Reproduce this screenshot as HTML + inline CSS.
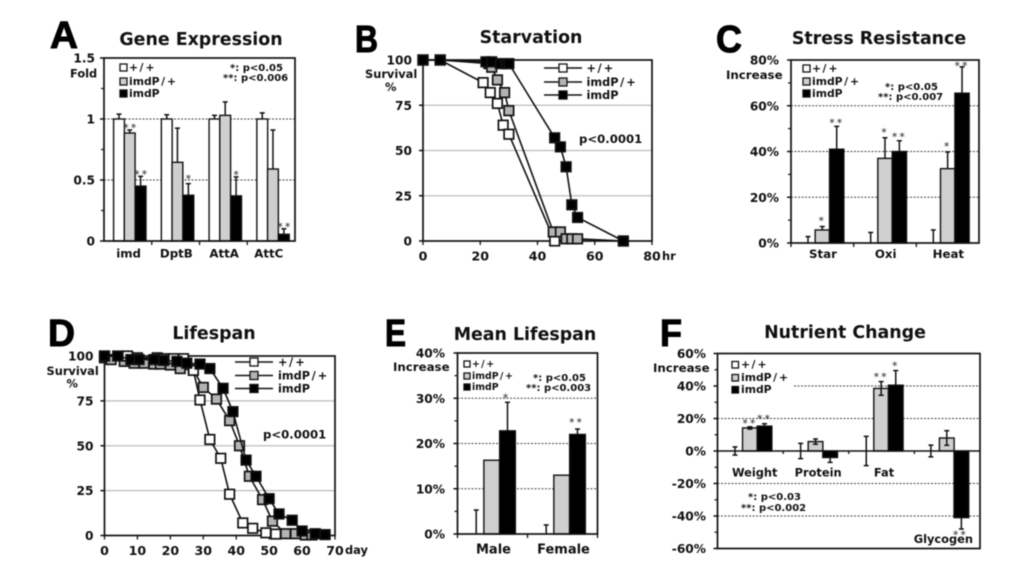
<!DOCTYPE html>
<html lang="en">
<head>
<meta charset="utf-8">
<title>Gene expression and survival panels</title>
<style>
html,body{margin:0;padding:0;background:#fff;}
#figure{display:block;width:1020px;height:573px;filter:blur(0.4px);}
text{font-family:"DejaVu Sans","Liberation Sans",sans-serif;font-weight:bold;fill:#111;}
.letter{font-family:"Liberation Sans",sans-serif;font-size:38px;fill:#000;stroke:#000;stroke-width:1px;}
.title{font-size:17.4px;text-anchor:middle;}
.tick{font-size:12.2px;text-anchor:end;}
.tickx{font-size:11.8px;text-anchor:middle;}
.ticknum{font-size:12.6px;text-anchor:middle;}
.tickf{font-size:11.4px;text-anchor:middle;}
.note{font-size:10px;}
.unit{font-size:11.4px;}
.pval{font-size:11.7px;}
.leg{font-size:10.8px;}
.star{font-size:11px;text-anchor:middle;font-weight:normal;fill:#222;letter-spacing:2px;}
</style>
</head>
<body>
<svg id="figure" xmlns="http://www.w3.org/2000/svg" width="1020" height="573" viewBox="0 0 1020 573">
  <rect width="1020" height="573" fill="#fff"/>
  <text class="letter" x="50" y="48" textLength="28" lengthAdjust="spacingAndGlyphs">A</text>
  <text class="letter" x="355" y="52" textLength="23" lengthAdjust="spacingAndGlyphs">B</text>
  <text class="letter" x="716" y="52" textLength="26" lengthAdjust="spacingAndGlyphs">C</text>
  <text class="letter" x="48" y="346" textLength="27" lengthAdjust="spacingAndGlyphs">D</text>
  <text class="letter" x="385" y="346" textLength="21" lengthAdjust="spacingAndGlyphs">E</text>
  <text class="letter" x="660" y="346" textLength="22" lengthAdjust="spacingAndGlyphs">F</text>
  <text class="title" x="201" y="45">Gene Expression</text>
  <text class="title" x="531" y="43">Starvation</text>
  <text class="title" x="879" y="44">Stress Resistance</text>
  <text class="title" x="214" y="339">Lifespan</text>
  <text class="title" x="525" y="340">Mean Lifespan</text>
  <text class="title" x="845" y="338">Nutrient Change</text>
  <g id="chart-layer"></g>
  <g id="label-layer">
    <text class="unit" x="70" y="77.5">Fold</text>
    <text class="note" x="230" y="71">*: p&lt;0.05</text>
    <text class="note" x="223" y="81">**: p&lt;0.006</text>
    <text class="unit" x="365" y="78">Survival</text>
    <text class="unit" x="385" y="91">%</text>
    <text class="unit" x="662" y="260">hr</text>
    <text class="pval" x="579" y="143">p&lt;0.0001</text>
    <text class="unit" style="font-size:11.8px" x="726" y="79">Increase</text>
    <text class="note" x="885" y="90">*: p&lt;0.05</text>
    <text class="note" x="878" y="100">**: p&lt;0.007</text>
    <text class="unit" x="46.5" y="375">Survival</text>
    <text class="unit" x="66.5" y="387.5">%</text>
    <text class="unit" x="345" y="554">day</text>
    <text class="pval" x="263" y="438.5">p&lt;0.0001</text>
    <text class="unit" style="font-size:11.8px" x="393" y="371">Increase</text>
    <text class="note" x="533" y="381">*: p&lt;0.05</text>
    <text class="note" x="526" y="391">**: p&lt;0.003</text>
    <text class="unit" style="font-size:11.8px" x="653" y="372">Increase</text>
    <text class="note" x="748" y="500">*: p&lt;0.03</text>
    <text class="note" x="741" y="511">**: p&lt;0.002</text>
  </g>
</svg>
<script>
/* ---------- Panel A: gene expression ---------- */
const aCategories = ['imd', 'DptB', 'AttA', 'AttC'];
const aControl = [1, 1, 1, 1];
const aHet = [0.885, 0.645, 1.03, 0.59];
const aHom = [0.45, 0.375, 0.37, 0.055];
const aControlErr = [0.04, 0.035, 0.03, 0.05];
const aHetErr = [0.025, 0.28, 0.11, 0.32];
const aHomErr = [0.08, 0.095, 0.155, 0.045];
const aHetStars = ['**', '', '', ''];
const aHomStars = ['**', '*', '*', '**'];
const aTicks = [0, 0.5, 1, 1.5];
const aTickLabels = ['0', '0.5', '1', '1.5'];

/* ---------- Panel B: starvation ---------- */
const bControlHours = [0, 6, 21, 23.5, 26, 28, 30, 46];
const bControlSurvival = [100, 100, 87.5, 82, 76, 64, 59, 0];
const bHetHours = [0, 6, 23, 24, 26, 28.5, 30, 45.5, 48, 50, 52, 54, 70];
const bHetSurvival = [100, 100, 98, 96, 89, 82, 72, 5, 5, 1.2, 1.2, 1.2, 0];
const bHomHours = [0, 6, 22, 24, 27, 29, 30, 46, 48, 50, 52, 54, 70];
const bHomSurvival = [100, 100, 99, 99, 98, 98, 98, 57, 52, 41, 20, 13, 0];
const bXTicks = [0, 20, 40, 60, 80];
const bYTicks = [0, 25, 50, 75, 100];

/* ---------- Panel C: stress resistance ---------- */
const cCategories = ['Star', 'Oxi', 'Heat'];
const cControl = [0, 0, 0];
const cHet = [5.7, 37, 32.5];
const cHom = [41, 40, 65.5];
const cControlErr = [2.8, 4.6, 5.7];
const cHetErr = [1.5, 9, 7.3];
const cHomErr = [10, 4.7, 11.5];
const cHetStars = ['*', '*', '*'];
const cHomStars = ['**', '**', '**'];
const cTicks = [0, 20, 40, 60, 80];

/* ---------- Panel D: lifespan ---------- */
const dControlDays = [0, 7, 10, 16, 18, 21, 24, 27, 29, 32, 35.3, 38, 42, 45, 49, 52];
const dControlSurvival = [100, 100, 99, 99, 98.5, 98.5, 98.5, 92, 75.5, 53.5, 43, 23, 7, 4, 1.5, 0.8];
const dHetDays = [0, 2, 6, 9, 12, 15, 17, 20, 23, 27, 30, 34, 38, 41, 44, 48, 51, 55, 58, 61, 63];
const dHetSurvival = [99, 98, 97, 96, 96, 95.5, 95.5, 95, 93, 92, 82.5, 76, 64, 50, 33, 20, 8, 1, 1, 0.3, 0.3];
const dHomDays = [0, 4, 8, 10.5, 15, 18, 22, 25, 29, 32, 36, 39, 43, 46, 50, 53, 57, 60, 64, 67];
const dHomSurvival = [100, 100, 98, 98, 98, 97.5, 97, 96, 95.5, 93, 82, 69, 42, 33, 20.5, 12, 8.5, 2.5, 1, 0.5];
const dXTicks = [0, 10, 20, 30, 40, 50, 60, 70];
const dYTicks = [0, 25, 50, 75, 100];

/* ---------- Panel E: mean lifespan ---------- */
const eCategories = ['Male', 'Female'];
const eControl = [0, 0];
const eHet = [16.3, 13];
const eHom = [22.8, 22];
const eControlErr = [5.3, 2];
const eHomErr = [6.3, 1.2];
const eHomStars = ['*', '**'];
const eTicks = [0, 10, 20, 30, 40];

/* ---------- Panel F: nutrient change ---------- */
const fCategories = ['Weight', 'Protein', 'Fat', 'Glycogen'];
const fControl = [0, 0, 0, 0];
const fHet = [14.2, 5.8, 38.5, 8];
const fHom = [15.3, -4, 40.5, -41];
const fControlErr = [2.5, 4.7, 9, 3.6];
const fHetErr = [0.7, 1.6, 4.2, 4.5];
const fHomErr = [1.5, 3, 9, 7];
const fHetStars = ['**', '', '**', ''];
const fHomStars = ['**', '', '*', '**'];
const fTicks = [-60, -40, -20, 0, 20, 40, 60];

/* ---------- Legend ---------- */
const legendLabels = ['+/+', 'imdP/+', 'imdP'];

const SVGNS = 'http://www.w3.org/2000/svg';
const layer = document.getElementById('chart-layer');
const WHITE = '#ffffff', GRAY = '#cfcfcf', LINEGRAY = '#b3b3b3', BLACK = '#000000', INK = '#111111';

function el(tag, attrs, parent) {
  const n = document.createElementNS(SVGNS, tag);
  for (const k in attrs) n.setAttribute(k, attrs[k]);
  (parent || layer).appendChild(n);
  return n;
}
function scale(d0, d1, r0, r1) {
  return v => r0 + (v - d0) / (d1 - d0) * (r1 - r0);
}
function line(x1, y1, x2, y2, stroke, width, dash, name) {
  const n = el('line', {x1, y1, x2, y2, stroke, 'stroke-width': width});
  if (dash) n.setAttribute('stroke-dasharray', dash);
  
  
  return n;
}
function label(str, x, y, cls, name) {
  const t = el('text', {x, y, class: cls});
  t.textContent = str;
  
  
  return t;
}
/* legend text has extra air around the slash */
function legendText(str, x, y, size, name) {
  const t = el('text', {x, y, class: 'leg', style: 'font-size:' + size + 'px'});
  
  
  const slash = str.indexOf('/');
  if (slash < 0) {
    t.textContent = str;
    return t;
  }
  t.appendChild(document.createTextNode(str.slice(0, slash)));
  const a = el('tspan', {dx: (size * 0.14).toFixed(2)}, t);
  a.textContent = '/';
  const b = el('tspan', {dx: (size * 0.18).toFixed(2)}, t);
  b.textContent = str.slice(slash + 1);
  return t;
}
function frame(box, name) {
  const r = el('rect', {x: box.l, y: box.t, width: box.r - box.l, height: box.b - box.t, fill: 'none', stroke: INK, 'stroke-width': 1.7});
  
  
}
function yAxisTicks(ticks, y, box, fmt, panel, minorStep, gap) {
  ticks.forEach((v, i) => {
    line(box.l - 4, y(v), box.l, y(v), INK, 1.5, null, panel + '-y-tick-' + v);
    label(fmt(v, i), box.l - gap, y(v) + 4.5, 'tick', panel + '-y-label-' + v);
    if (minorStep && i < ticks.length - 1) {
      const mid = (v + ticks[i + 1]) / 2;
      line(box.l - 3, y(mid), box.l, y(mid), INK, 1.2, null, panel + '-y-minor-tick-' + mid);
    }
  });
}
function bar(x, w, y0, y1, fill, name) {
  const r = el('rect', {x: x - w / 2, y: Math.min(y0, y1), width: w, height: Math.abs(y1 - y0), fill, stroke: INK, 'stroke-width': 1.4});
  
  
}
function errUp(x, yFrom, yTo, name) {
  line(x, yFrom, x, yTo, INK, 1.5, null, name + '-stem');
  line(x - 2.5, yTo, x + 2.5, yTo, INK, 1.5, null, name + '-cap');
}
function errBoth(x, yA, yB, name) {
  line(x, yA, x, yB, INK, 1.5, null, name + '-stem');
  line(x - 2.5, yA, x + 2.5, yA, INK, 1.5, null, name + '-cap-top');
  line(x - 2.5, yB, x + 2.5, yB, INK, 1.5, null, name + '-cap-bottom');
}
function star(str, x, y, name) {
  if (str) label(str, x, y, 'star', name);
}
function legendBlock(x, ys, size, fontSize, panel, labelGap) {
  const fills = [WHITE, GRAY, BLACK];
  legendLabels.forEach((s, i) => {
    const r = el('rect', {x, y: ys[i] - size, width: size, height: size, fill: fills[i], stroke: INK, 'stroke-width': 1.3});
    
    
    legendText(s, x + size + labelGap, ys[i], fontSize, panel + '-legend-label-' + i);
  });
}
function series(xs, ys, xf, yf, fill, panel, id, size) {
  const pts = xs.map((d, i) => xf(d) + ',' + yf(ys[i])).join(' ');
  const p = el('polyline', {points: pts, fill: 'none', stroke: INK, 'stroke-width': 1.6});
  
  
  xs.forEach((d, i) => {
    const r = el('rect', {x: xf(d) - size / 2, y: yf(ys[i]) - size / 2, width: size, height: size, fill, stroke: INK, 'stroke-width': 1.7});
    
    
  });
}
function lineLegend(x, ys, panel, labelX) {
  const fills = [WHITE, LINEGRAY, BLACK];
  legendLabels.forEach((s, i) => {
    line(x, ys[i], x + 38, ys[i], INK, 1.5, null, panel + '-legend-line-' + i);
    const r = el('rect', {x: x + 15, y: ys[i] - 4, width: 8, height: 8, fill: fills[i], stroke: INK, 'stroke-width': 1.3});
    
    
    legendText(s, labelX, ys[i] + 4, 11.3, panel + '-legend-label-' + i);
  });
}

/* ---------- Draw A ---------- */
(function () {
  const box = {l: 104, r: 295, t: 58, b: 241};
  const y = scale(0, 1.5, box.b, box.t);
  [0.5, 1].forEach(v => line(box.l, y(v), box.r, y(v), '#444', 1, '2 1.5', 'a-gridline-' + v));
  const gw = (box.r - box.l) / 4, w = 10.8;
  aCategories.forEach((c, i) => {
    const g = box.l + gw * i;
    const xs = [g + 15, g + 25.7, g + 36.6];
    errUp(xs[0], y(aControl[i]), y(aControl[i] + aControlErr[i]), 'a-error-control-' + c);
    errUp(xs[1], y(aHet[i]), y(aHet[i] + aHetErr[i]), 'a-error-het-' + c);
    errUp(xs[2], y(aHom[i]), y(aHom[i] + aHomErr[i]), 'a-error-hom-' + c);
    bar(xs[0], w, box.b, y(aControl[i]), WHITE, 'a-bar-control-' + c);
    bar(xs[1], w, box.b, y(aHet[i]), GRAY, 'a-bar-het-' + c);
    bar(xs[2], w, box.b, y(aHom[i]), BLACK, 'a-bar-hom-' + c);
    star(aHetStars[i], xs[1] + 1, y(aHet[i] + aHetErr[i]) + 1.7, 'a-star-het-' + c);
    star(aHomStars[i], xs[2] + 1, y(aHom[i] + aHomErr[i]) + 1.7 - (i === 1 ? 3 : 0), 'a-star-hom-' + c);
    label(c, g + (i === 3 ? 21.5 : 24.6), 257.5, 'tickx', 'a-x-label-' + c);
    if (i > 0) line(g, box.b, g, box.b + 4, INK, 1.3, null, 'a-x-tick-' + i);
  });
  frame(box, 'a-plot-frame');
  yAxisTicks(aTicks, y, box, (v, i) => aTickLabels[i], 'a', true, 9);
  legendBlock(120, [71, 85, 97], 7, 10.8, 'a', 2);
})();

/* ---------- Draw B ---------- */
(function () {
  const box = {l: 423, r: 652, t: 60, b: 241};
  const x = scale(0, 80, box.l, box.r), y = scale(0, 100, box.b, box.t);
  bYTicks.slice(1, 4).forEach(v => line(box.l, y(v), box.r, y(v), '#bbb', 1.2, null, 'b-gridline-' + v));
  frame(box, 'b-plot-frame');
  yAxisTicks(bYTicks, y, box, v => String(v), 'b', false, 11);
  bXTicks.forEach(v => {
    line(x(v), box.b, x(v), box.b + 4, INK, 1.3, null, 'b-x-tick-' + v);
    label(String(v), x(v), 260.7, 'ticknum', 'b-x-label-' + v);
  });
  series(bControlHours, bControlSurvival, x, y, WHITE, 'b', 'control', 9.5);
  series(bHetHours, bHetSurvival, x, y, LINEGRAY, 'b', 'het', 9.5);
  series(bHomHours, bHomSurvival, x, y, BLACK, 'b', 'hom', 9.5);
  lineLegend(544, [68, 82, 95], 'b', 586.5);
})();

/* ---------- Draw C ---------- */
(function () {
  const box = {l: 791, r: 979, t: 60, b: 243};
  const y = scale(0, 80, box.b, box.t);
  [20, 40, 60].forEach(v => line(box.l, y(v), box.r, y(v), '#444', 1, '2 1.5', 'c-gridline-' + v));
  const gw = (box.r - box.l) / 3, w = 14.3;
  cCategories.forEach((c, i) => {
    const g = box.l + gw * i;
    const xs = [g + 17, g + 31.3, g + 45.7];
    errUp(xs[0], y(cControl[i]), y(cControl[i] + cControlErr[i]), 'c-error-control-' + c);
    errUp(xs[1], y(cHet[i]), y(cHet[i] + cHetErr[i]), 'c-error-het-' + c);
    errUp(xs[2], y(cHom[i]), y(cHom[i] + cHomErr[i]), 'c-error-hom-' + c);
    bar(xs[1], w, box.b, y(cHet[i]), GRAY, 'c-bar-het-' + c);
    bar(xs[2], w, box.b, y(cHom[i]), BLACK, 'c-bar-hom-' + c);
    star(cHetStars[i], xs[1], y(cHet[i] + cHetErr[i]) - 2, 'c-star-het-' + c);
    star(cHomStars[i], xs[2], y(cHom[i] + cHomErr[i]) + (i === 2 ? 2.5 : 0), 'c-star-hom-' + c);
    label(c, g + 32, 258, 'tickx', 'c-x-label-' + c);
    line(g, box.b, g, box.b + 4, INK, 1.3, null, 'c-x-tick-' + i);
  });
  frame(box, 'c-plot-frame');
  yAxisTicks(cTicks, y, box, v => v + '%', 'c', true, 12);
  legendBlock(803, [72, 85, 97], 7, 10.8, 'c', 2);
})();

/* ---------- Draw D ---------- */
(function () {
  const box = {l: 104.5, r: 335, t: 356, b: 535.5};
  const x = scale(0, 70, box.l, box.r), y = scale(0, 100, box.b, box.t);
  dYTicks.slice(1, 4).forEach(v => line(box.l, y(v), box.r, y(v), '#bbb', 1.2, null, 'd-gridline-' + v));
  frame(box, 'd-plot-frame');
  yAxisTicks(dYTicks, y, box, v => String(v), 'd', false, 11);
  dXTicks.forEach(v => {
    line(x(v), box.b, x(v), box.b + 4, INK, 1.3, null, 'd-x-tick-' + v);
    label(String(v), x(v), 555, 'ticknum', 'd-x-label-' + v);
  });
  series(dHetDays, dHetSurvival, x, y, LINEGRAY, 'd', 'het', 9.5);
  series(dControlDays, dControlSurvival, x, y, WHITE, 'd', 'control', 9.5);
  series(dHomDays, dHomSurvival, x, y, BLACK, 'd', 'hom', 9.5);
  lineLegend(235, [362, 375.5, 388.5], 'd', 278);
})();

/* ---------- Draw E ---------- */
(function () {
  const box = {l: 457.5, r: 597.5, t: 353, b: 534};
  const y = scale(0, 40, box.b, box.t);
  [10, 20, 30].forEach(v => line(box.l, y(v), box.r, y(v), '#444', 1, '2 1.5', 'e-gridline-' + v));
  const gw = (box.r - box.l) / 2, w = 15.7;
  eCategories.forEach((c, i) => {
    const g = box.l + gw * i;
    const xs = [g + 18.7, g + 34.2, g + 50];
    errUp(xs[0], y(eControl[i]), y(eControl[i] + eControlErr[i]), 'e-error-control-' + c);
    errUp(xs[2], y(eHom[i]), y(eHom[i] + eHomErr[i]), 'e-error-hom-' + c);
    bar(xs[1], w, box.b, y(eHet[i]), GRAY, 'e-bar-het-' + c);
    bar(xs[2], w, box.b, y(eHom[i]), BLACK, 'e-bar-hom-' + c);
    star(eHomStars[i], xs[2] - 1, y(eHom[i] + eHomErr[i]) - 1 - i * 2, 'e-star-hom-' + c);
    label(c, g + 36, 553.5, 'tickx', 'e-x-label-' + c).setAttribute('style', 'font-size:13px');
    line(g, box.b, g, box.b + 4, INK, 1.3, null, 'e-x-tick-' + i);
  });
  line(box.r, box.b, box.r, box.b + 4, INK, 1.3, null, 'e-x-tick-end');
  frame(box, 'e-plot-frame');
  yAxisTicks(eTicks, y, box, v => v + '%', 'e', true, 12.5);
  legendBlock(464, [367, 379, 390], 6, 9.4, 'e', 2);
})();

/* ---------- Draw F ---------- */
(function () {
  const box = {l: 717.5, r: 980, t: 353.5, b: 548.5};
  const y = scale(-60, 60, box.b, box.t);
  [20, -20, -40].forEach(v => line(box.l, y(v), box.r, y(v), '#444', 1, '2 1.5', 'f-gridline-' + v));
  line(794, y(40), box.r, y(40), '#444', 1, '2 1.5', 'f-gridline-40');
  const gw = (box.r - box.l) / 4, w = 14.7;
  const labelOffsets = [37.2, 35, 35.3, 29];
  const labelYs = [476.7, 476.7, 476.7, 543];
  fCategories.forEach((c, i) => {
    const g = box.l + gw * i;
    const xs = [g + 17.5 - (i === 3 ? 1 : 0), g + 32.4, g + 47];
    errBoth(xs[0], y(fControl[i] + fControlErr[i]), y(fControl[i] - fControlErr[i]), 'f-error-control-' + c);
    bar(xs[1], w, y(0), y(fHet[i]), GRAY, 'f-bar-het-' + c);
    const homTip = fHom[i] + Math.sign(fHom[i]) * fHomErr[i];
    errUp(xs[2], y(fHom[i]), y(homTip), 'f-error-hom-' + c);
    bar(xs[2], w, y(0), y(fHom[i]), BLACK, 'f-bar-hom-' + c);
    errBoth(xs[1], y(fHet[i] + fHetErr[i]), y(fHet[i] - fHetErr[i]), 'f-error-het-' + c);
    star(fHetStars[i], xs[1], y(fHet[i] + fHetErr[i]) - 1 + (i === 0 ? 1 : 0), 'f-star-het-' + c);
    star(fHomStars[i], xs[2] - (i === 3 ? 1 : 0), homTip > 0 ? y(homTip) - 1 : y(homTip) + 9.5, 'f-star-hom-' + c);
    label(c, g + labelOffsets[i], labelYs[i], 'tickf', 'f-x-label-' + c);
    if (i > 0) line(g, y(0), g, y(0) + 3, INK, 1.3, null, 'f-x-tick-' + i);
  });
  line(box.l, y(0), box.r, y(0), INK, 1.6, null, 'f-zero-line');
  frame(box, 'f-plot-frame');
  yAxisTicks(fTicks, y, box, v => v + '%', 'f', true, 11.5);
  legendBlock(732, [368, 381, 393], 6.5, 10.8, 'f', 2.5);
})();
</script>
</body>
</html>
